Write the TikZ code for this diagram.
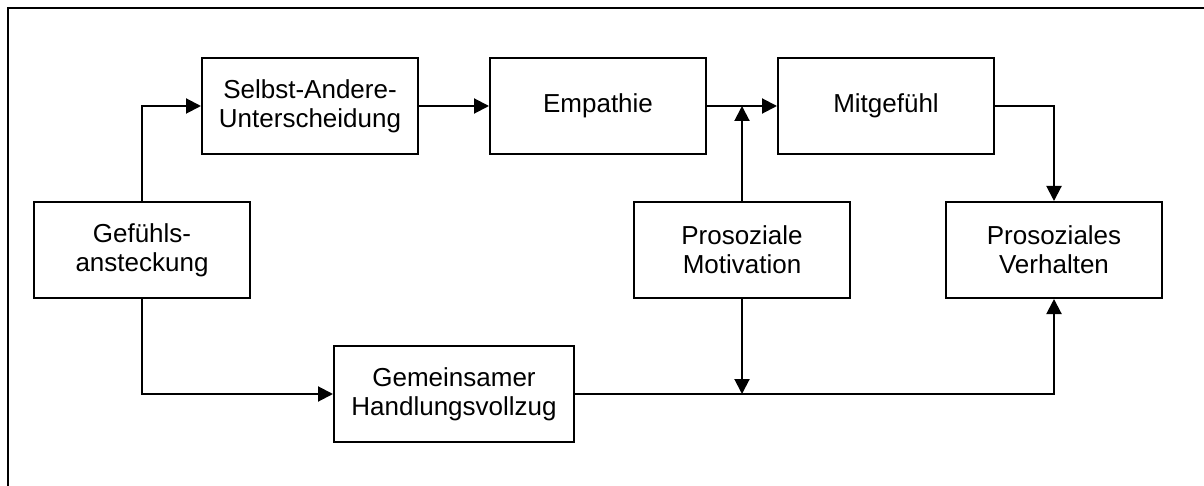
\documentclass[tikz,border=0pt]{standalone}
\usepackage{fontspec}
\setmainfont{Liberation Sans}
\usetikzlibrary{arrows.meta}
\begin{document}
\begin{tikzpicture}[x=1pt,y=-1pt,
  box/.style={draw,line width=2pt,minimum height=96pt,inner sep=0pt,align=center,
    font=\fontsize{26}{29}\selectfont},
  sbox/.style={box,minimum width=216pt},
  wbox/.style={box,minimum width=240pt},
  conn/.style={line width=2pt,-{Triangle[length=15pt,width=15pt]}},
  frame/.style={line width=2pt}]
\useasboundingbox (0,0) rectangle (1204,486);
\draw[frame] (8,486) -- (8,8) -- (1204,8);
\node[sbox] (sad) at (310,106) {Selbst-Andere-\\Unterscheidung};
\node[sbox] (emp) at (598,106) {Empathie};
\node[sbox] (mit) at (886,106) {Mitgefühl};
\node[sbox] (gef) at (142,250) {Gefühls-\\ansteckung};
\node[sbox] (mot) at (742,250) {Prosoziale\\Motivation};
\node[sbox] (ver) at (1054,250) {Prosoziales\\Verhalten};
\node[wbox] (gem) at (454,394) {Gemeinsamer\\Handlungsvollzug};
\coordinate (j1) at (mot.north |- emp.east);
\coordinate (j2) at (mot.south |- gem.east);
\draw[conn] (gef.north) |- (sad.west);
\draw[conn] (gef.south) |- (gem.west);
\draw[conn] (sad.east) -- (emp.west);
\draw[conn] (emp.east) -- (mit.west);
\draw[conn] (mot.north) -- (j1);
\draw[conn] (mot.south) -- (j2);
\draw[conn] (gem.east) -| (ver.south);
\draw[conn] (mit.east) -| (ver.north);
\end{tikzpicture}
\end{document}
